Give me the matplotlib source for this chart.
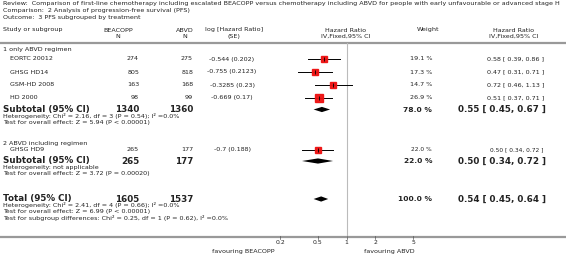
import matplotlib
matplotlib.use('Agg')
import matplotlib.pyplot as plt
import numpy as np

# data
studies = ['EORTC 20012', 'GHSG HD14', 'GSM-HD 2008', 'HD 2000', 'GHSG HD9']
beacopp_n = [274, 805, 163, 98, 265]
abvd_n = [275, 818, 168, 99, 177]
log_hr = [-0.544, -0.755, -0.3285, -0.669, -0.7]
log_se = [0.202, 0.2123, 0.23, 0.17, 0.188]
weights = [19.1, 17.3, 14.7, 26.9, 22.0]
hr = [0.58, 0.47, 0.72, 0.51, 0.50]
hr_lo = [0.39, 0.31, 0.46, 0.37, 0.34]
hr_hi = [0.86, 0.71, 1.13, 0.71, 0.72]

sub_names = ['Subtotal (95% CI)', 'Subtotal (95% CI)', 'Total (95% CI)']
sub_beacopp = [1340, 265, 1605]
sub_abvd = [1360, 177, 1537]
sub_weight = [78.0, 22.0, 100.0]
sub_hr = [0.55, 0.50, 0.54]
sub_lo = [0.45, 0.34, 0.45]
sub_hi = [0.67, 0.72, 0.64]

ticks = [0.2, 0.5, 1, 2, 5]

title_lines = [
    'Review:  Comparison of first-line chemotherapy including escalated BEACOPP versus chemotherapy including ABVD for people with early unfavourable or advanced stage H',
    'Comparison:  2 Analysis of progression-free survival (PFS)',
    'Outcome:  3 PFS subgrouped by treatment',
]
group_labels = ['1 only ABVD regimen', '2 ABVD including regimen']
sub_notes = [
    ['Heterogeneity: Chi\u00b2 = 2.16, df = 3 (P = 0.54); I\u00b2 =0.0%',
     'Test for overall effect: Z = 5.94 (P < 0.00001)'],
    ['Heterogeneity: not applicable',
     'Test for overall effect: Z = 3.72 (P = 0.00020)'],
    ['Heterogeneity: Chi\u00b2 = 2.41, df = 4 (P = 0.66); I\u00b2 =0.0%',
     'Test for overall effect: Z = 6.99 (P < 0.00001)',
     'Test for subgroup differences: Chi\u00b2 = 0.25, df = 1 (P = 0.62), I\u00b2 =0.0%'],
]

W, H = 566, 260
fig = plt.figure(figsize=(W / 100, H / 100), dpi=100)
tab = fig.add_axes([0, 0, 1, 1])
tab.set_xlim(0, W)
tab.set_ylim(H, 0)
tab.axis('off')

ax = fig.add_axes([280 / W, 0, (W - 280) / W, 1])
ax.set_xscale('log')
ax.set_xlim(0.2, 199)
ax.set_ylim(H, 0)
ax.axis('off')

txt = '#222222'
fs = 4.6
fsb = 6.3

def t(x, y, s, ha='left', size=fs, bold=False):
    tab.text(x, y, s, ha=ha, va='center', fontsize=size, color=txt,
             fontweight='bold' if bold else 'normal')

# title block
for i, s in enumerate(title_lines):
    t(3, 4 + i * 6.5, s, size=4.55)

# column headers
t(3, 30, 'Study or subgroup')
t(118, 30, 'BEACOPP', ha='center'); t(118, 36.5, 'N', ha='center')
t(185, 30, 'ABVD', ha='center'); t(185, 36.5, 'N', ha='center')
t(234, 30, 'log [Hazard Ratio]', ha='center'); t(234, 36.5, '(SE)', ha='center')
t(346, 30, 'Hazard Ratio', ha='center'); t(346, 36.5, 'IV,Fixed,95% CI', ha='center')
t(428, 30, 'Weight', ha='center')
t(514, 30, 'Hazard Ratio', ha='center'); t(514, 36.5, 'IV,Fixed,95% CI', ha='center')
tab.plot([0, W], [43, 43], color='#999999', lw=1.6)

# reference line at 1
ax.plot([1, 1], [43, 237], color='#bbbbbb', lw=0.8)

study_y = [59, 72, 85, 97.5, 149.5]
group_y = [50, 143]
sub_y = [109.5, 161, 199]
small_rows = [4]

for gy, g in zip(group_y, group_labels):
    t(3, gy, g)

for i, name in enumerate(studies):
    y = study_y[i]
    t(10, y, name)
    t(139, y, str(beacopp_n[i]), ha='right')
    t(193, y, str(abvd_n[i]), ha='right')
    t(232, y, f'{log_hr[i]:g} ({log_se[i]:g})', ha='center')
    rs = 4.2 if i in small_rows else fs
    t(432, y, f'{weights[i]:.1f} %', ha='right', size=rs)
    t(544, y, f'{hr[i]:.2f} [ {hr_lo[i]:.2f}, {hr_hi[i]:.2f} ]', ha='right', size=rs)
    ax.plot([hr_lo[i], hr_hi[i]], [y, y], color='black', lw=0.7)
    ax.plot(hr[i], y, marker='s', ms=1.0 * np.sqrt(weights[i]), color='#ee1111',
            mec='#ee1111', alpha=0.95)
    ax.plot(hr[i], y, marker='|', ms=2.5, color='black', mew=0.6)

for i, name in enumerate(sub_names):
    y = sub_y[i]
    t(3, y, name, size=fsb, bold=True)
    t(139, y, str(sub_beacopp[i]), ha='right', size=fsb, bold=True)
    t(193, y, str(sub_abvd[i]), ha='right', size=fsb, bold=True)
    t(432, y, f'{sub_weight[i]:.1f} %', ha='right', size=5.4, bold=True)
    t(546, y, f'{sub_hr[i]:.2f} [ {sub_lo[i]:.2f}, {sub_hi[i]:.2f} ]', ha='right',
      size=fsb, bold=True)
    ax.fill([sub_lo[i], sub_hr[i], sub_hi[i], sub_hr[i]],
            [y, y - 2.6, y, y + 2.6], color='black', lw=0)
    for j, note in enumerate(sub_notes[i]):
        t(3, y + 6.5 + j * 6.2, note)

# x axis
tab.plot([0, W], [237, 237], color='#999999', lw=1.6)
for v in ticks:
    ax.plot([v, v], [235.5, 238.5], color='#555555', lw=0.5)
    ax.text(v, 242, f'{v:g}', ha='center', va='center', fontsize=4.4, color=txt)
t(275, 251, 'favouring BEACOPP', ha='right')
t(364, 251, 'favouring ABVD')

fig.savefig('out.png', dpi=100)
